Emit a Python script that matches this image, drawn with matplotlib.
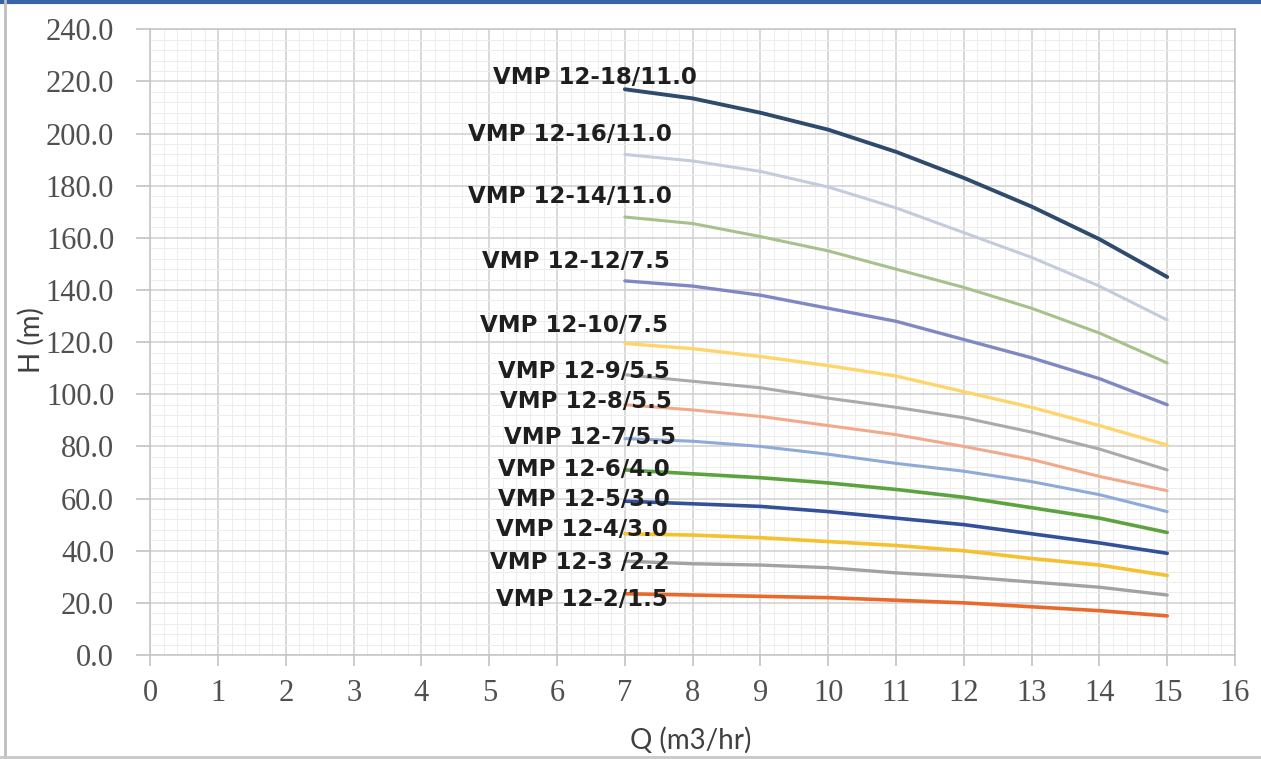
import matplotlib
matplotlib.use("Agg")
import matplotlib.pyplot as plt
from matplotlib.ticker import MultipleLocator, FormatStrFormatter
from matplotlib.lines import Line2D

# ---------------- data ----------------
flow = [7, 8, 9, 10, 11, 12, 13, 14, 15]  # Q (m3/hr)

h_12_18 = [217.0, 213.5, 208.0, 201.5, 193.0, 183.0, 172.0, 159.5, 145.0]
h_12_16 = [192.0, 189.5, 185.5, 179.5, 171.5, 162.0, 152.5, 141.5, 128.5]
h_12_14 = [168.0, 165.5, 160.5, 155.0, 148.0, 141.0, 133.0, 123.5, 112.0]
h_12_12 = [143.5, 141.5, 138.0, 133.0, 128.0, 121.0, 114.0, 106.0, 96.0]
h_12_10 = [119.5, 117.5, 114.5, 111.0, 107.0, 101.0, 95.0, 88.0, 80.5]
h_12_9 = [107.5, 105.0, 102.5, 98.5, 95.0, 91.0, 85.5, 79.0, 71.0]
h_12_8 = [96.0, 94.0, 91.5, 88.0, 84.5, 80.0, 75.0, 68.5, 63.0]
h_12_7 = [83.0, 82.0, 80.0, 77.0, 73.5, 70.5, 66.5, 61.5, 55.0]
h_12_6 = [71.0, 69.5, 68.0, 66.0, 63.5, 60.5, 56.5, 52.5, 47.0]
h_12_5 = [59.0, 58.0, 57.0, 55.0, 52.5, 50.0, 46.5, 43.0, 39.0]
h_12_4 = [46.5, 46.0, 45.0, 43.5, 42.0, 40.0, 37.0, 34.5, 30.5]
h_12_3 = [36.0, 35.0, 34.5, 33.5, 31.5, 30.0, 28.0, 26.0, 23.0]
h_12_2 = [23.5, 23.0, 22.5, 22.0, 21.0, 20.0, 18.5, 17.0, 15.0]

models = ["VMP 12-18/11.0", "VMP 12-16/11.0", "VMP 12-14/11.0", "VMP 12-12/7.5",
          "VMP 12-10/7.5", "VMP 12-9/5.5", "VMP 12-8/5.5", "VMP 12-7/5.5",
          "VMP 12-6/4.0", "VMP 12-5/3.0", "VMP 12-4/3.0", "VMP 12-3 /2.2",
          "VMP 12-2/1.5"]
heads = [h_12_18, h_12_16, h_12_14, h_12_12, h_12_10, h_12_9, h_12_8, h_12_7,
         h_12_6, h_12_5, h_12_4, h_12_3, h_12_2]

x_ticks = list(range(0, 17))
y_ticks = list(range(0, 241, 20))

# ---------------- styling / layout ----------------
colors = ["#2E4A6C", "#C3CCDD", "#A8C18C", "#7F88C2", "#FFD56B", "#A9A9AE",
          "#F2A98A", "#8EAAD8", "#5BA33F", "#34509A", "#F5C12E", "#A2A2A2",
          "#E8692A"]
widths = [2.8, 2.2, 2.2, 2.4, 2.4, 2.2, 2.2, 2.2, 2.6, 2.6, 2.6, 2.4, 2.6]
label_x = [8.06, 7.69, 7.69, 7.66, 7.64, 7.66, 7.69, 7.75, 7.66, 7.66, 7.64,
           7.66, 7.64]
label_y = [221.5, 199.6, 175.8, 150.9, 126.3, 108.6, 97.1, 83.3, 71.0, 59.5,
           48.0, 35.3, 21.1]

W, H = 1261, 759
fig = plt.figure(figsize=(W / 100, H / 100), dpi=100)
fig.patch.set_facecolor("white")

left, right, bottom, top = 150.3, 1235.0, 655.0, 29.3
ax = fig.add_axes([left / W, 1 - bottom / H, (right - left) / W, (bottom - top) / H])
ax.set_xlim(0, 16)
ax.set_ylim(0, 240)

ax.xaxis.set_major_locator(MultipleLocator(1))
ax.xaxis.set_minor_locator(MultipleLocator(0.2))
ax.yaxis.set_major_locator(MultipleLocator(20))
ax.yaxis.set_minor_locator(MultipleLocator(4))
ax.set_xticks(x_ticks)
ax.set_yticks(y_ticks)
ax.yaxis.set_major_formatter(FormatStrFormatter("%.1f"))

ax.grid(True, which="major", color="#CFCFCF", lw=1.1, zorder=0)
ax.grid(True, which="minor", color="#EDEDED", lw=0.7, zorder=0)
ax.set_axisbelow(True)

for s in ax.spines.values():
    s.set_color("#C4C4C4")
    s.set_linewidth(1.1)

ax.tick_params(axis="both", which="major", colors="#BDBDBD", labelcolor="#505050",
               direction="out", width=1.1)
ax.tick_params(axis="y", which="major", length=10, pad=16)
ax.tick_params(axis="x", which="major", length=8, pad=9)
ax.tick_params(which="minor", length=0)
for lab in ax.get_xticklabels() + ax.get_yticklabels():
    lab.set_fontfamily("Liberation Serif")
    lab.set_fontsize(22)

for hv, c, lw in zip(heads, colors, widths):
    ax.plot(flow, hv, color=c, lw=lw, solid_capstyle="round",
            solid_joinstyle="round", zorder=3)

for name, lx, ly in zip(models, label_x, label_y):
    ax.text(lx, ly, name, ha="right", va="center", fontsize=16.5,
            fontfamily="DejaVu Sans", fontweight="bold", color="#1E1E1E", zorder=4)

fig.text(31 / W, 1 - 340 / H, "H (m)", rotation=90, ha="center", va="center",
         fontsize=20, fontfamily="Lato", color="#404040")
fig.text(691 / W, 1 - 740 / H, "Q (m3/hr)", ha="center", va="center",
         fontsize=20, fontfamily="Lato", color="#404040")

# screenshot frame lines
fig.add_artist(Line2D([0, 1], [1 - 2 / H, 1 - 2 / H], transform=fig.transFigure,
                      color="#3A64A8", lw=3))
fig.add_artist(Line2D([5 / W, 5 / W], [0, 1], transform=fig.transFigure,
                      color="#BEBEBE", lw=2))
fig.add_artist(Line2D([0, 1], [2 / H, 2 / H], transform=fig.transFigure,
                      color="#C8C8C8", lw=2))

fig.savefig("out.png", dpi=100, facecolor="white")
